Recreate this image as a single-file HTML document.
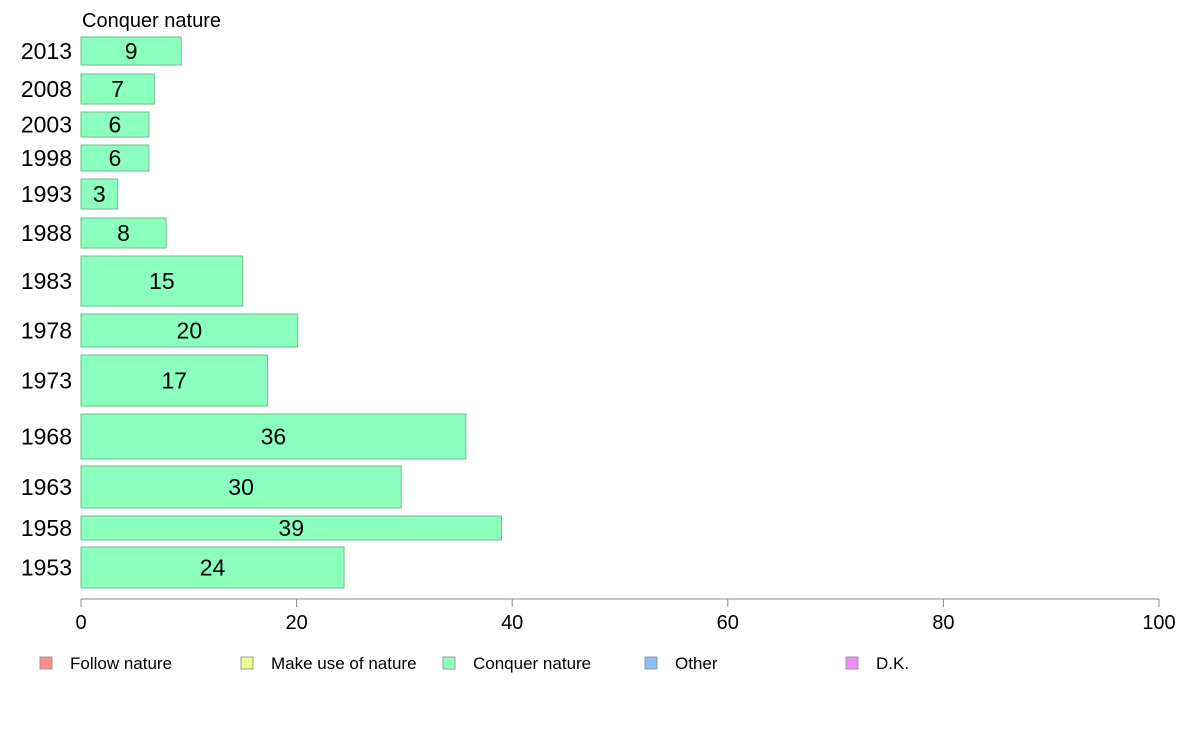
<!DOCTYPE html>
<html><head><meta charset="utf-8"><style>
html,body{margin:0;padding:0;background:#fff;}
svg{display:block;font-family:"Liberation Sans",sans-serif;}
</style></head><body>
<svg id="chart" width="1188" height="736" viewBox="0 0 1188 736">
<text x="82" y="27" font-size="20" fill="#000">Conquer nature</text>
<g id="bars"></g>
<g id="axis"></g>
<g id="legend"></g>
</svg>
<script>
const years = ["2013","2008","2003","1998","1993","1988","1983","1978","1973","1968","1963","1958","1953"];
const values = [9.3,6.8,6.3,6.3,3.4,7.9,15.0,20.1,17.3,35.7,29.7,39.0,24.4];
const labels = ["9","7","6","6","3","8","15","20","17","36","30","39","24"];
const bandTops = [37,74,112,145,179,218,256,314,355,414,466,516,547];
const bandBottoms = [65,104,137,171,209,248,306,347,406,459,508,540,588];
const ticks = [0,20,40,60,80,100];
const legendNames = ["Follow nature","Make use of nature","Conquer nature","Other","D.K."];
const legendColors = ["#ff8b8b","#edff8b","#8bffbe","#8bbcff","#ef8bff"];

const NS="http://www.w3.org/2000/svg";
const x0=81, x1=1159;
const xs = v => x0 + (v/100)*(x1-x0);
function mk(tag, attrs, parent){const e=document.createElementNS(NS,tag);for(const k in attrs)e.setAttribute(k,attrs[k]);parent.appendChild(e);return e;}

const bars=document.getElementById('bars');
years.forEach((y,i)=>{
  const t=bandTops[i], b=bandBottoms[i], cy=(t+b)/2;
  const r=mk('rect',{x:x0,y:t,width:xs(values[i])-x0,height:b-t,fill:'#8bffbe',stroke:'#6fbf8f','stroke-width':1},bars);
  
  
  const yl=mk('text',{x:72,y:cy+8,'font-size':23,'text-anchor':'end',fill:'#000'},bars);
  yl.textContent=y;
  
  
  const vl=mk('text',{x:(x0+xs(values[i]))/2,y:cy+8,'font-size':23,'text-anchor':'middle',fill:'#000'},bars);
  vl.textContent=labels[i];
  
  
});

const axis=document.getElementById('axis');
const al=mk('line',{x1:x0,x2:x1,y1:599,y2:599,stroke:'#888','stroke-width':1},axis);


ticks.forEach(t=>{
  const tl=mk('line',{x1:xs(t),x2:xs(t),y1:599,y2:607,stroke:'#888','stroke-width':1},axis);
  
  
  const tx=mk('text',{x:xs(t),y:629,'font-size':20,'text-anchor':'middle',fill:'#000'},axis);
  tx.textContent=t;
  
  
});

const lg=document.getElementById('legend');
const lx=[40,241,443,645,846];
legendNames.forEach((n,i)=>{
  const r=mk('rect',{x:lx[i],y:657,width:12,height:12,fill:legendColors[i],stroke:'#999','stroke-width':1},lg);
  
  
  const t=mk('text',{x:lx[i]+30,y:669,'font-size':17,fill:'#000'},lg);
  t.textContent=n;
  
  
});
</script>
</body></html>
